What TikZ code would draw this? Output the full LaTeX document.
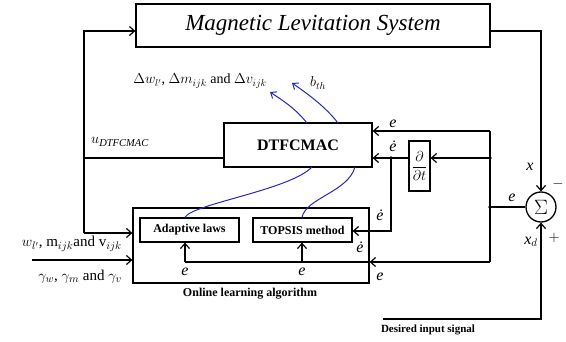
\documentclass[tikz,border=0pt]{standalone}
\usepackage{fontspec}
\setmainfont{Liberation Serif}
\usetikzlibrary{arrows.meta}
\begin{document}
\begin{tikzpicture}[x=1pt,y=-1pt,
  blk/.style={draw,line width=1.3pt,inner sep=0pt,rectangle},
  ln/.style={line width=1.2pt},
  arr/.style={ln,-{Straight Barb[length=5pt,width=9pt,line width=1.2pt]}},
  barr/.style={line width=1pt,draw={rgb,255:red,40;green,40;blue,190},-{Straight Barb[length=5pt,width=8pt,line width=1pt]}},
  bln/.style={line width=1pt,draw={rgb,255:red,40;green,40;blue,190}},
  lab/.style={font=\fontsize{14}{14}\selectfont,inner sep=0pt},
  elab/.style={font=\fontsize{16}{16}\selectfont\itshape,inner sep=0pt}]
\useasboundingbox (0,0) rectangle (566,342);
% blocks
\node[blk,minimum width=354pt,minimum height=43pt,font=\fontsize{23}{23}\selectfont\itshape] (mls) at (313,25.5) {Magnetic Levitation System};
\node[blk,minimum width=148pt,minimum height=44pt,font=\fontsize{16}{16}\selectfont\bfseries] (dtf) at (298,145) {DTFCMAC};
\node[blk,minimum width=21pt,minimum height=50pt,font=\fontsize{15}{15}\selectfont] (ddt) at (419.5,166) {$\displaystyle\frac{\partial}{\partial t}$};
\node[blk,minimum width=236pt,minimum height=75pt] (olb) at (251,245.5) {};
\node[blk,minimum width=99pt,minimum height=24pt,font=\fontsize{12}{12}\selectfont\bfseries] (adl) at (189.5,230) {Adaptive laws};
\node[blk,minimum width=99pt,minimum height=24pt,font=\fontsize{12}{12}\selectfont\bfseries] (top) at (302.5,230) {TOPSIS method};
\node[draw,circle,line width=1.3pt,minimum size=30pt,inner sep=0pt,font=\fontsize{20}{20}\selectfont] (sum) at (541,207) {$\Sigma$};
% coordinates
\coordinate (uL) at (84,158);
\coordinate (tl) at (84,31);
\coordinate (bl) at (84,233);
\coordinate (tr) at (541,31);
\coordinate (des) at (383,319);
\coordinate (dr) at (541,319);
\coordinate (jt) at (490,131);
\coordinate (jm) at (490,158);
\coordinate (je) at (490,207);
\coordinate (jb) at (490,262);
\coordinate (jd) at (391,158);
\coordinate (jdb) at (391,231);
\coordinate (ea) at (185,262);
\coordinate (et) at (302,262);
\coordinate (in) at (32,260);
\coordinate (b1) at (270,92);
\coordinate (b2) at (292,83);
% connectors
\draw[ln] (dtf.west |- uL) -- (uL);
\draw[arr] (bl) -- (tl) -- (mls.west |- tl);
\draw[arr] (bl) -- (olb.west |- bl);
\draw[arr] (mls.east |- tr) -- (tr) -- (sum.north);
\draw[arr] (des) -- (dr) -- (sum.south);
\draw[ln] (sum.west) -- (je);
\draw[ln] (jt) -- (jb);
\draw[arr] (jt) -- (dtf.east |- jt);
\draw[arr] (jm) -- (ddt.east |- jm);
\draw[arr] (ddt.west |- jd) -- (dtf.east |- jd);
\draw[arr] (jd) -- (jdb) -- (top.east |- jdb);
\draw[arr] (jb) -- (olb.east |- jb);
\draw[ln] (olb.east |- jb) -- (ea);
\draw[arr] (ea) -- (adl.south -| ea);
\draw[arr] (et) -- (top.south -| et);
\draw[arr] (in) -- (olb.west |- in);
\fill (jm) circle (1.8pt);
\fill (je) circle (1.8pt);
\fill (jd) circle (1.8pt);
% blue curves
\draw[barr] (307,123) .. controls (295,108) and (282,100) .. (b1);
\draw[barr] (338,123) .. controls (325,106) and (305,92) .. (b2);
\draw[bln] (adl.north -| ea) .. controls (192,204) and (290,190) .. (312,167);
\draw[bln] (top.north -| et) .. controls (306,198) and (348,192) .. (355,167);
% labels
\node[lab] (l1) at (200,81) {$\Delta w_{l'}$, $\Delta m_{ijk}$ and $\Delta v_{ijk}$};
\node[lab] (l2) at (318,83) {$b_{th}$};
\node[lab,font=\fontsize{15}{15}\selectfont] (l3) at (120,142) {$u_{\mathit{DTFCMAC}}$};
\node[elab] (l4) at (393,124) {e};
\node[elab] (l5) at (393,146) {ė};
\node[elab] (l6) at (512,198) {e};
\node[elab] (l7) at (530,167) {x};
\node[lab] (l8) at (558,184) {$-$};
\node[elab] (l9) at (531,242) {x$_d$};
\node[lab] (l10) at (554,238) {$+$};
\node[elab] (l11) at (380,215) {ė};
\node[elab] (l12) at (360,247) {ė};
\node[elab] (l13) at (380,277) {e};
\node[elab] (l14) at (185,272) {e};
\node[elab] (l15) at (302,272) {e};
\node[lab,anchor=east,font=\fontsize{15}{15}\selectfont] (l16) at (122,244) {$w_{l'}$, m$_{ijk}$and v$_{ijk}$};
\node[lab,anchor=east,font=\fontsize{15}{15}\selectfont] (l17) at (122,277) {$\gamma_w$, $\gamma_m$ and $\gamma_v$};
\node[font=\fontsize{12}{12}\selectfont\bfseries,inner sep=0pt] (l18) at (250,294) {Online learning algorithm};
\node[font=\fontsize{11}{11}\selectfont\bfseries,inner sep=0pt] (l19) at (428,330) {Desired input signal};
\end{tikzpicture}
\end{document}
